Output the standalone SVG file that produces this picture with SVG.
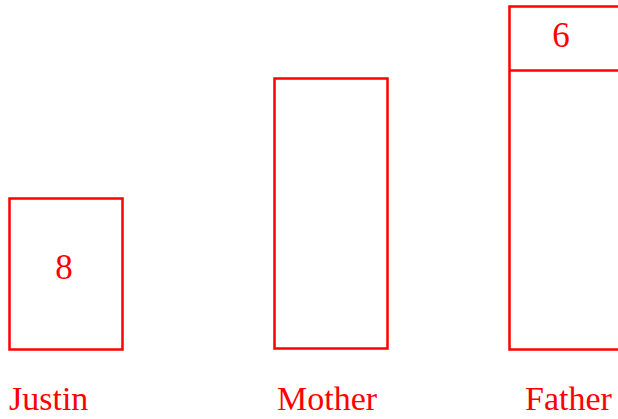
<svg xmlns="http://www.w3.org/2000/svg" width="618" height="419" viewBox="0 0 618 419">
<style>
.box{fill:none;stroke:#ff0000;stroke-width:2.5}
.t{fill:#ff0000;font-family:"Liberation Serif","DejaVu Serif",serif;font-size:34px}
.n{fill:#ff0000;font-family:"Liberation Serif","DejaVu Serif",serif;font-size:35px;text-anchor:middle}
</style>
<rect width="618" height="419" fill="#fff"/>
<g id="justin">
<rect class="box" x="9.5" y="198.5" width="113" height="151"/>
<text class="n" x="64" y="279">8</text>
<text class="t" x="9" y="410">Justin</text>
</g>
<g id="mother">
<rect class="box" x="274.5" y="78.5" width="113" height="270"/>
<text class="t" x="277" y="410">Mother</text>
</g>
<g id="father">
<rect class="box" x="509.5" y="6.5" width="120" height="343"/>
<line class="box" x1="509.5" y1="70.5" x2="620" y2="70.5"/>
<text class="n" x="561" y="47">6</text>
<text class="t" x="525" y="410">Father</text>
</g>
</svg>
